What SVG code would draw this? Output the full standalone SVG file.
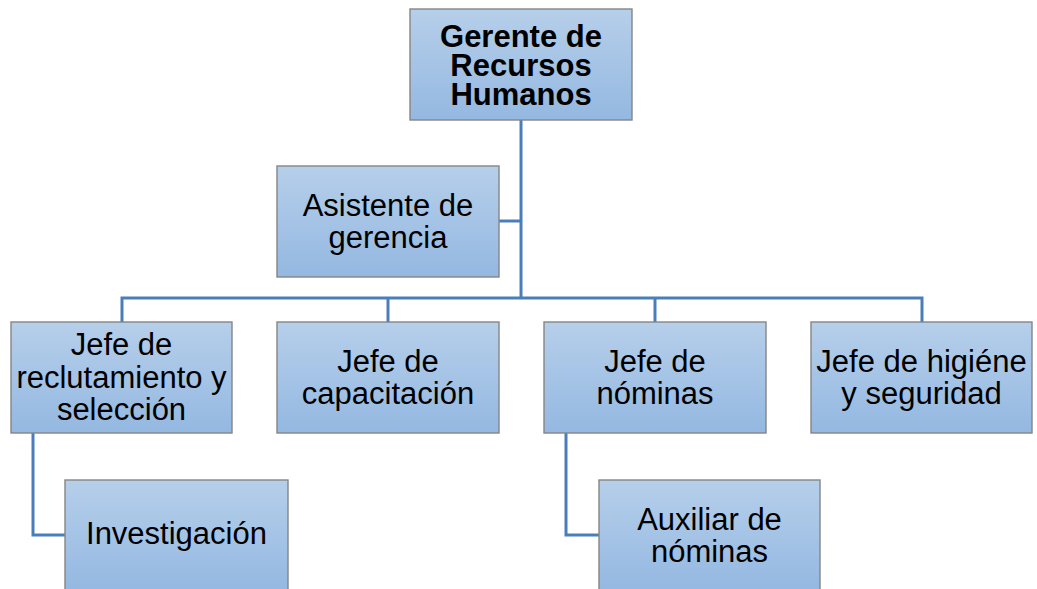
<svg xmlns="http://www.w3.org/2000/svg" width="1037" height="589" viewBox="0 0 1037 589">
<defs>
<linearGradient id="g" x1="0" y1="0" x2="0" y2="1">
<stop offset="0" stop-color="#b6cfea"/>
<stop offset="1" stop-color="#94b8e1"/>
</linearGradient>
</defs>
<style>
.box{fill:url(#g);stroke:#858585;stroke-width:1.4}
.t{font-family:"Liberation Sans",Arial,sans-serif;font-size:31px;fill:#000;text-anchor:middle}
.b{font-weight:bold;font-size:31px}
.c{fill:none;stroke:#4a7ebb;stroke-width:3}
</style>
<rect width="1037" height="589" fill="#fff"/>
<g id="connectors">
<path class="c" d="M521,120 V298"/>
<path class="c" d="M499,221 H521"/>
<path class="c" d="M122,322 V298 H922 V322"/>
<path class="c" d="M388,298 V322"/>
<path class="c" d="M655,298 V322"/>
<path class="c" d="M33,433 V535 H65"/>
<path class="c" d="M566,433 V535 H599"/>
</g>
<g id="gerente">
<rect class="box" x="410" y="9" width="222" height="111"/>
<text class="t b" x="521" y="47">Gerente de</text>
<text class="t b" x="521" y="76">Recursos</text>
<text class="t b" x="521" y="105">Humanos</text>
</g>
<g id="asistente">
<rect class="box" x="277" y="166" width="222" height="111"/>
<text class="t" x="388" y="216">Asistente de</text>
<text class="t" x="388" y="248">gerencia</text>
</g>
<g id="reclutamiento">
<rect class="box" x="11" y="322" width="221" height="111"/>
<text class="t" x="121.5" y="355">Jefe de</text>
<text class="t" x="121.5" y="387.5">reclutamiento y</text>
<text class="t" x="121.5" y="420">selección</text>
</g>
<g id="capacitacion">
<rect class="box" x="277" y="322" width="222" height="111"/>
<text class="t" x="388" y="372">Jefe de</text>
<text class="t" x="388" y="404">capacitación</text>
</g>
<g id="nominas">
<rect class="box" x="544" y="322" width="222" height="111"/>
<text class="t" x="655" y="372">Jefe de</text>
<text class="t" x="655" y="404">nóminas</text>
</g>
<g id="higiene">
<rect class="box" x="811" y="322" width="221" height="111"/>
<text class="t" x="921.5" y="372">Jefe de higiéne</text>
<text class="t" x="921.5" y="404">y seguridad</text>
</g>
<g id="investigacion">
<rect class="box" x="65" y="480" width="223" height="111"/>
<text class="t" x="176.5" y="544">Investigación</text>
</g>
<g id="auxiliar">
<rect class="box" x="599" y="480" width="221" height="111"/>
<text class="t" x="709.5" y="530">Auxiliar de</text>
<text class="t" x="709.5" y="562">nóminas</text>
</g>
</svg>
